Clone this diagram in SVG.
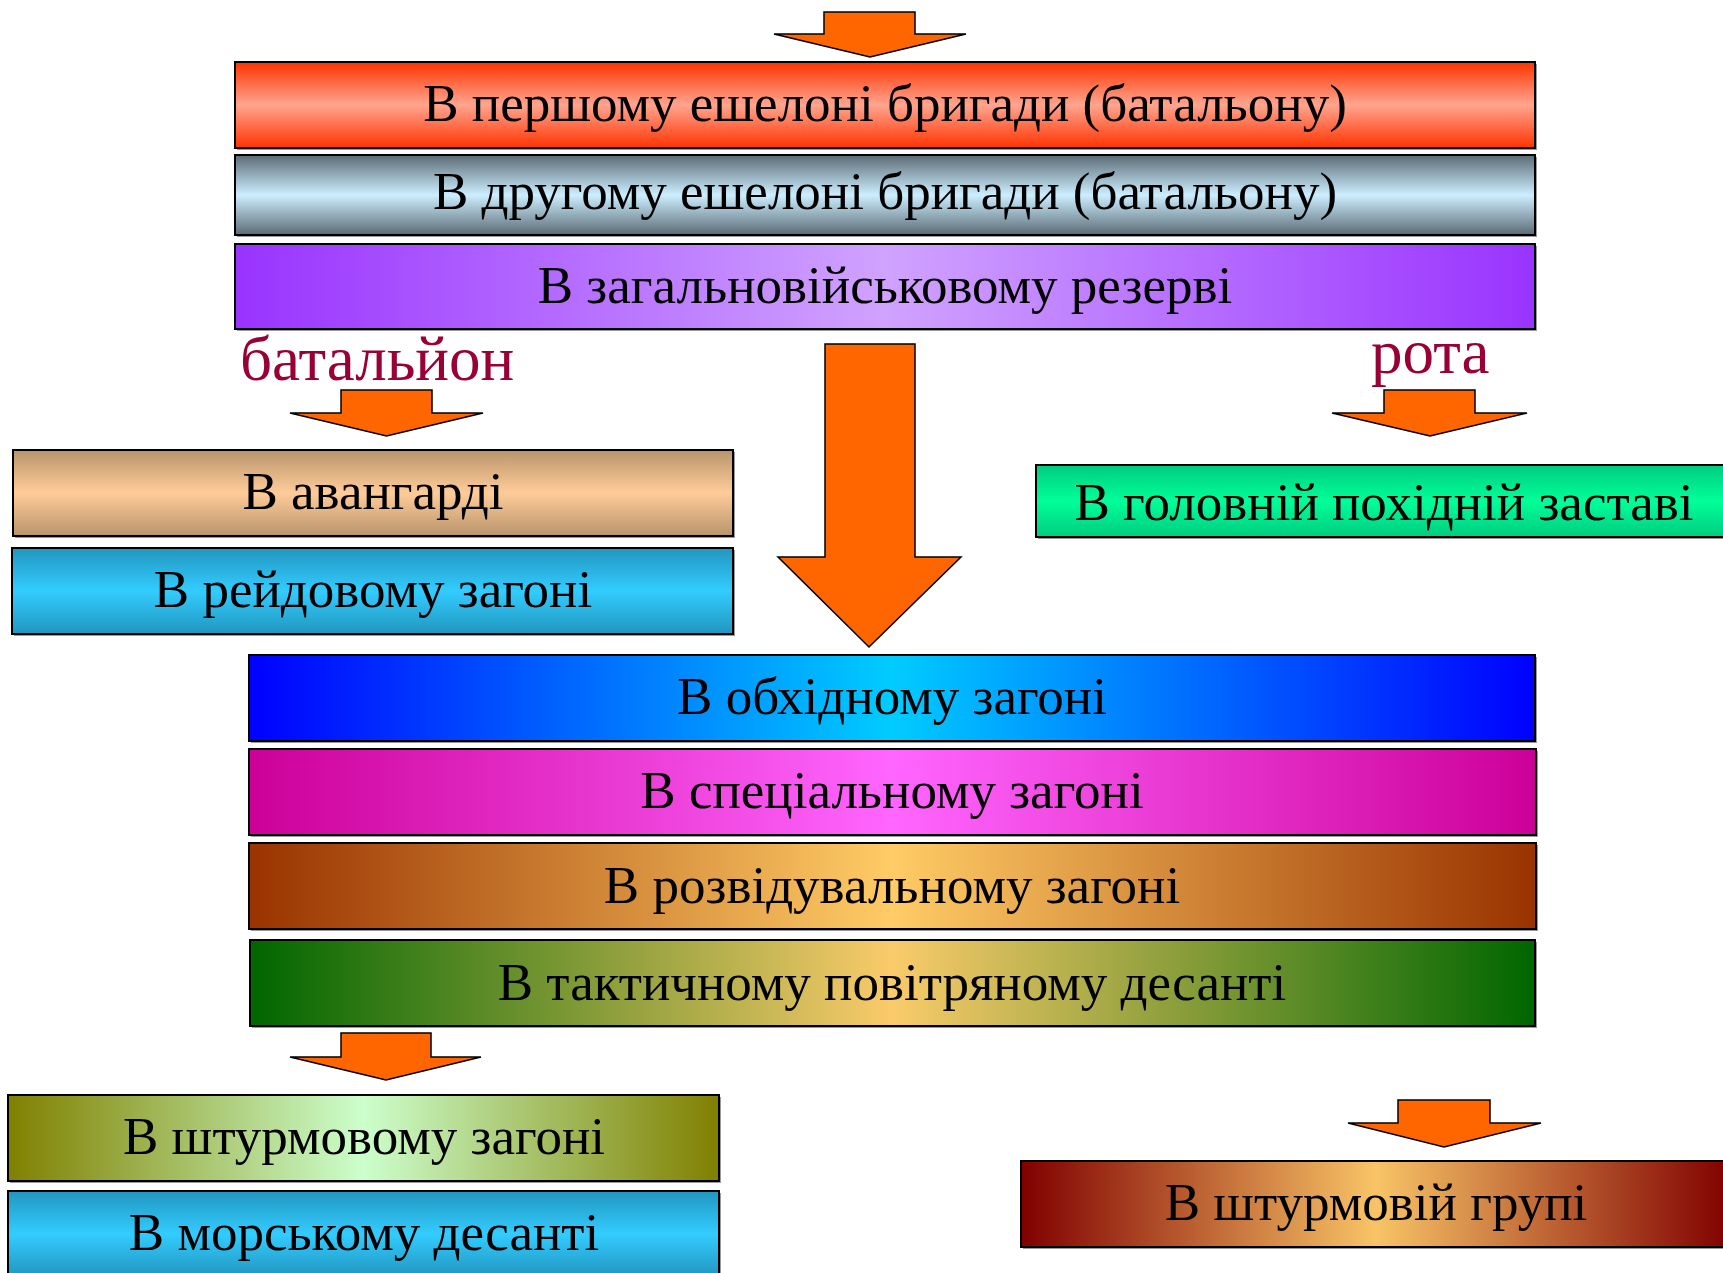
<svg xmlns="http://www.w3.org/2000/svg" width="1723" height="1273" viewBox="0 0 1723 1273">
<defs>
<linearGradient id="gRed" x1="0" y1="0" x2="0" y2="1">
<stop offset="0" stop-color="#FF3300"/><stop offset="0.5" stop-color="#FFA58F"/><stop offset="1" stop-color="#FF3300"/>
</linearGradient>
<linearGradient id="gGrey" x1="0" y1="0" x2="0" y2="1">
<stop offset="0" stop-color="#5C6B75"/><stop offset="0.5" stop-color="#CCEEFF"/><stop offset="1" stop-color="#5C6B75"/>
</linearGradient>
<linearGradient id="gPurple" x1="0" y1="0" x2="1" y2="0">
<stop offset="0" stop-color="#9933FF"/><stop offset="0.5" stop-color="#D0A3FF"/><stop offset="1" stop-color="#9933FF"/>
</linearGradient>
<linearGradient id="gTan" x1="0" y1="0" x2="0" y2="1">
<stop offset="0" stop-color="#B8946C"/><stop offset="0.5" stop-color="#FFCC99"/><stop offset="1" stop-color="#B8946C"/>
</linearGradient>
<linearGradient id="gCyan" x1="0" y1="0" x2="0" y2="1">
<stop offset="0" stop-color="#2196BF"/><stop offset="0.5" stop-color="#33CCFF"/><stop offset="1" stop-color="#2196BF"/>
</linearGradient>
<linearGradient id="gMint" x1="0" y1="0" x2="0" y2="1">
<stop offset="0" stop-color="#00CC80"/><stop offset="0.5" stop-color="#00FF99"/><stop offset="1" stop-color="#00CC80"/>
</linearGradient>
<linearGradient id="gBlue" x1="0" y1="0" x2="1" y2="0">
<stop offset="0" stop-color="#0000FF"/><stop offset="0.5" stop-color="#00CCFF"/><stop offset="1" stop-color="#0000FF"/>
</linearGradient>
<linearGradient id="gMagenta" x1="0" y1="0" x2="1" y2="0">
<stop offset="0" stop-color="#CC0099"/><stop offset="0.5" stop-color="#FF66FF"/><stop offset="1" stop-color="#CC0099"/>
</linearGradient>
<linearGradient id="gBrown" x1="0" y1="0" x2="1" y2="0">
<stop offset="0" stop-color="#993300"/><stop offset="0.5" stop-color="#FFCC66"/><stop offset="1" stop-color="#993300"/>
</linearGradient>
<linearGradient id="gGreen" x1="0" y1="0" x2="1" y2="0">
<stop offset="0" stop-color="#006600"/><stop offset="0.5" stop-color="#FACB6A"/><stop offset="1" stop-color="#006600"/>
</linearGradient>
<linearGradient id="gOlive" x1="0" y1="0" x2="1" y2="0">
<stop offset="0" stop-color="#808000"/><stop offset="0.5" stop-color="#CCFFCC"/><stop offset="1" stop-color="#808000"/>
</linearGradient>
<linearGradient id="gMaroon" x1="0" y1="0" x2="1" y2="0">
<stop offset="0" stop-color="#800000"/><stop offset="0.5" stop-color="#F8C466"/><stop offset="1" stop-color="#800000"/>
</linearGradient>
</defs>
<style>
.box{stroke:#000;stroke-width:2}
.sh{fill:#9a9a9a}
.t{font-family:"Liberation Serif","Times New Roman",serif;font-size:53px;fill:#000;text-anchor:middle}
.lbl{font-family:"Liberation Serif","Times New Roman",serif;font-size:63px;fill:#990033}
.arr{fill:#FF6600;stroke:#000;stroke-width:1.5;stroke-linejoin:miter}
</style>
<rect width="1723" height="1273" fill="#fff"/>

<g id="connectors">
<polygon class="arr" points="824,12 915,12 915,34 966,34 870,57 774,34 824,34"/>
<polygon class="arr" points="341,390 432,390 432,413 483,413 386.5,436 290,413 341,413"/>
<polygon class="arr" points="1384,390 1475,390 1475,413 1527,413 1430,436 1332,413 1384,413"/>
<polygon class="arr" points="825,344 915,344 915,557 961,557 869,647 778,557 825,557"/>
<polygon class="arr" points="341,1033 431,1033 431,1057 481,1057 386,1080 290,1057 341,1057"/>
<polygon class="arr" points="1398,1100 1490,1100 1490,1123 1541,1123 1444,1147 1348,1123 1398,1123"/>
</g>

<g id="node-first-echelon">
<rect class="sh" x="237" y="64" width="1300" height="86"/>
<rect class="box" x="235" y="62" width="1300" height="86" fill="url(#gRed)"/>
<text class="t" x="885" y="121">В першому ешелоні бригади (батальону)</text>
</g>
<g id="node-second-echelon">
<rect class="sh" x="237" y="157" width="1300" height="80"/>
<rect class="box" x="235" y="155" width="1300" height="80" fill="url(#gGrey)"/>
<text class="t" x="885" y="209">В другому ешелоні бригади (батальону)</text>
</g>
<g id="node-reserve">
<rect class="sh" x="237" y="246" width="1300" height="85"/>
<rect class="box" x="235" y="244" width="1300" height="85" fill="url(#gPurple)"/>
<text class="t" x="885" y="303">В загальновійськовому резерві</text>
</g>

<g id="label-battalion">
<text class="lbl" x="240" y="380">батальйон</text>
</g>
<g id="label-company">
<text class="lbl" x="1371" y="373">рота</text>
</g>

<g id="node-vanguard">
<rect class="sh" x="15" y="452" width="720" height="86"/>
<rect class="box" x="13" y="450" width="720" height="86" fill="url(#gTan)"/>
<text class="t" x="373" y="509">В авангарді</text>
</g>
<g id="node-raid">
<rect class="sh" x="14" y="550" width="721" height="86"/>
<rect class="box" x="12" y="548" width="721" height="86" fill="url(#gCyan)"/>
<text class="t" x="373" y="607">В рейдовому загоні</text>
</g>
<g id="node-head-outpost">
<rect class="sh" x="1038" y="467" width="700" height="72"/>
<rect class="box" x="1036" y="465" width="700" height="72" fill="url(#gMint)"/>
<text class="t" x="1384" y="520">В головній похідній заставі</text>
</g>

<g id="node-bypass">
<rect class="sh" x="251" y="657" width="1286" height="86"/>
<rect class="box" x="249" y="655" width="1286" height="86" fill="url(#gBlue)"/>
<text class="t" x="892" y="714">В обхідному загоні</text>
</g>
<g id="node-special">
<rect class="sh" x="251" y="751" width="1287" height="86"/>
<rect class="box" x="249" y="749" width="1287" height="86" fill="url(#gMagenta)"/>
<text class="t" x="892" y="808">В спеціальному загоні</text>
</g>
<g id="node-recon">
<rect class="sh" x="251" y="845" width="1287" height="86"/>
<rect class="box" x="249" y="843" width="1287" height="86" fill="url(#gBrown)"/>
<text class="t" x="892" y="903">В розвідувальному загоні</text>
</g>
<g id="node-airborne">
<rect class="sh" x="252" y="942" width="1285" height="86"/>
<rect class="box" x="250" y="940" width="1285" height="86" fill="url(#gGreen)"/>
<text class="t" x="892" y="1000">В тактичному повітряному десанті</text>
</g>

<g id="node-assault-detachment">
<rect class="sh" x="10" y="1097" width="711" height="86"/>
<rect class="box" x="8" y="1095" width="711" height="86" fill="url(#gOlive)"/>
<text class="t" x="364" y="1154">В штурмовому загоні</text>
</g>
<g id="node-naval-landing">
<rect class="sh" x="10" y="1193" width="711" height="86"/>
<rect class="box" x="8" y="1191" width="711" height="86" fill="url(#gCyan)"/>
<text class="t" x="364" y="1250">В морському десанті</text>
</g>
<g id="node-assault-group">
<rect class="sh" x="1023" y="1163" width="710" height="86"/>
<rect class="box" x="1021" y="1161" width="710" height="86" fill="url(#gMaroon)"/>
<text class="t" x="1376" y="1220">В штурмовій групі</text>
</g>
</svg>
